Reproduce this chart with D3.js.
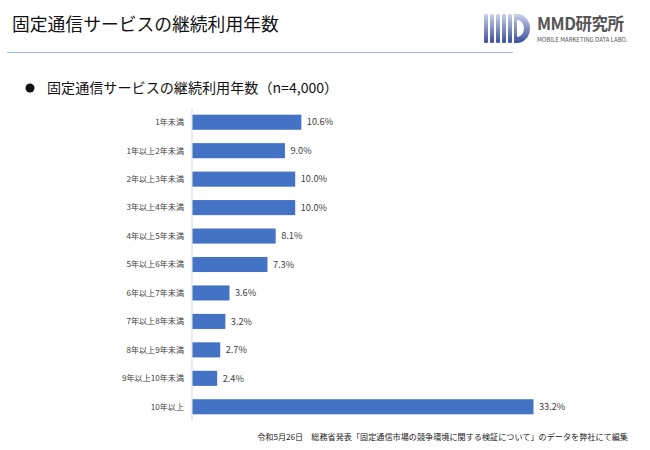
<!DOCTYPE html>
<html><head><meta charset="utf-8">
<script src="https://cdn.jsdelivr.net/npm/d3@7"></script>
<style>body{margin:0;background:#fff}svg{display:block}</style>
</head><body>
<script>
const categories = ["1年未満","1年以上2年未満","2年以上3年未満","3年以上4年未満","4年以上5年未満","5年以上6年未満","6年以上7年未満","7年以上8年未満","8年以上9年未満","9年以上10年未満","10年以上"];
const values = [10.6, 9.0, 10.0, 10.0, 8.1, 7.3, 3.6, 3.2, 2.7, 2.4, 33.2];
const titleText = "固定通信サービスの継続利用年数";
const subtitleText = "固定通信サービスの継続利用年数（n=4,000）";
const sourceText = "令和5月26日　総務省発表「固定通信市場の競争環境に関する検証について」のデータを弊社にて編集";

const W = 650, H = 450;
const font = "'Noto Sans CJK JP','Noto Sans',sans-serif";
const svg = d3.select("body").append("svg").attr("width", W).attr("height", H).style("font-family", font);

svg.append("text").attr("x", 12).attr("y", 31).attr("font-size", 17.8).attr("fill", "#111").text(titleText);
svg.append("line").attr("x1", 7).attr("x2", 513).attr("y1", 52.5).attr("y2", 52.5).attr("stroke", "#9fb9e3").attr("stroke-width", 1);

// logo
const defs = svg.append("defs");
const g = defs.append("linearGradient").attr("id", "lg").attr("x1", 0).attr("y1", 0).attr("x2", 0).attr("y2", 1);
g.append("stop").attr("offset", 0).attr("stop-color", "#c9d1e8");
g.append("stop").attr("offset", 1).attr("stop-color", "#3c4f9a");
const logo = svg.append("g").attr("fill", "url(#lg)");
[[484,5],[490,5],[496,5],[502,5],[508,5]].forEach(([x,w]) => logo.append("rect").attr("x", x).attr("y", 14).attr("width", w - 1).attr("height", 29).attr("rx", 1.5));
logo.append("path").attr("d", "M514,14 L517,14 A13,14.5 0 0 1 517,43 L514,43 Z M517,20 A7,8.5 0 0 1 517,37 Z").attr("fill-rule", "evenodd");
svg.append("text").attr("x", 537).attr("y", 30).attr("font-size", 16.5).attr("font-weight", "bold").attr("fill", "#555").attr("letter-spacing", -0.5).text("MMD研究所");
svg.append("text").attr("x", 537).attr("y", 42).attr("font-size", 6).attr("fill", "#555").text("MOBILE MARKETING DATA LABO.");

// subtitle
svg.append("circle").attr("cx", 30).attr("cy", 88).attr("r", 4.5).attr("fill", "#111");
svg.append("text").attr("x", 47).attr("y", 93).attr("font-size", 14.1).attr("fill", "#111").text(subtitleText);

// chart
const x = d3.scaleLinear().domain([0, 33.2]).range([192, 533]);
const y = d3.scaleBand().domain(categories).range([108, 421]).paddingInner(0.47).paddingOuter(0.235);

svg.append("line").attr("x1", 192).attr("x2", 192).attr("y1", 108).attr("y2", 421).attr("stroke", "#d9d9d9");

svg.selectAll("rect.bar").data(values).join("rect").attr("class", "bar")
  .attr("x", x(0) + 0.5).attr("y", (d, i) => y(categories[i]))
  .attr("width", d => x(d) - x(0)).attr("height", y.bandwidth())
  .attr("fill", "#4472c4");

svg.selectAll("text.cat").data(categories).join("text").attr("class", "cat")
  .attr("x", 184).attr("y", d => y(d) + y.bandwidth() / 2).attr("dy", "0.35em")
  .attr("text-anchor", "end").attr("font-size", 8.1).attr("fill", "#404040").text(d => d);

svg.selectAll("text.val").data(values).join("text").attr("class", "val")
  .attr("x", d => x(d) + 6).attr("y", (d, i) => y(categories[i]) + y.bandwidth() / 2).attr("dy", "0.35em")
  .attr("font-size", 9.2).attr("fill", "#404040").text(d => d.toFixed(1) + "%");

svg.append("text").attr("x", 628).attr("y", 440).attr("text-anchor", "end").attr("font-size", 8.15).attr("fill", "#222").text(sourceText);
</script>
</body></html>
